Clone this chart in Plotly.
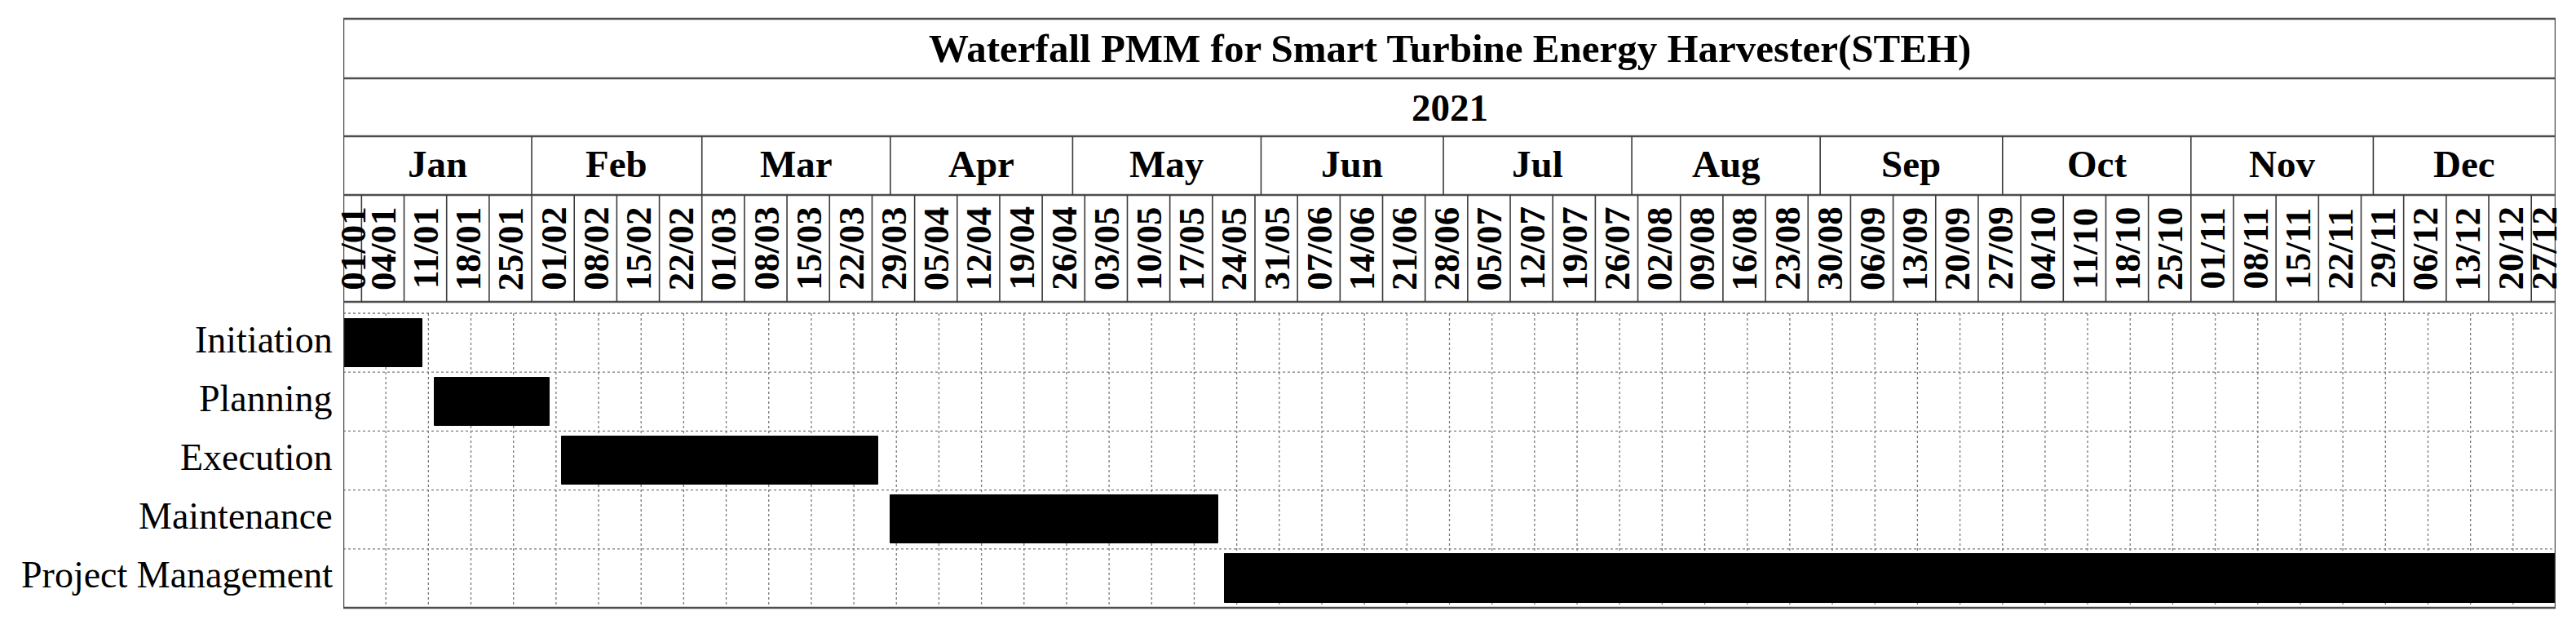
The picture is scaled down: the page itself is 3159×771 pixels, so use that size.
import plotly.graph_objects as go
import pandas as pd

# ---------------- data ----------------
chart_title = "Waterfall PMM for Smart Turbine Energy Harvester(STEH)"
year_label = "2021"
chart_start = "2021-01-01"
chart_end = "2021-12-30"

tasks = ["Initiation", "Planning", "Execution", "Maintenance", "Project Management"]
task_start = ["2021-01-01", "2021-01-16", "2021-02-06", "2021-04-01", "2021-05-26"]
task_end = ["2021-01-13", "2021-02-03", "2021-03-29", "2021-05-24", "2021-12-30"]

month_labels = ["Jan", "Feb", "Mar", "Apr", "May", "Jun",
                "Jul", "Aug", "Sep", "Oct", "Nov", "Dec"]

week_labels = ["01/01", "04/01", "11/01", "18/01", "25/01",
               "01/02", "08/02", "15/02", "22/02",
               "01/03", "08/03", "15/03", "22/03", "29/03",
               "05/04", "12/04", "19/04", "26/04",
               "03/05", "10/05", "17/05", "24/05", "31/05",
               "07/06", "14/06", "21/06", "28/06",
               "05/07", "12/07", "19/07", "26/07",
               "02/08", "09/08", "16/08", "23/08", "30/08",
               "06/09", "13/09", "20/09", "27/09",
               "04/10", "11/10", "18/10", "25/10",
               "01/11", "08/11", "15/11", "22/11", "29/11",
               "06/12", "13/12", "20/12", "27/12"]

# ---------------- helpers ----------------
t0 = pd.Timestamp(chart_start)
total_days = (pd.Timestamp(chart_end) - t0).days + 1


def day(d):
    return (pd.Timestamp(d) - t0).days


starts = [day(s) for s in task_start]
durations = [day(e) + 1 - day(s) for s, e in zip(task_start, task_end)]

# page geometry (pixels); the browser body has an 8 px margin
W, H = 3159, 771
BODY_MARGIN = 8
FIG_W, FIG_H = W - 2 * BODY_MARGIN, H - 2 * BODY_MARGIN
LEFT, RIGHT = 421, 3134
Y_TOP, Y_TITLE, Y_YEAR, Y_MONTH, Y_BODY, Y_BOTTOM = 23, 96, 167, 239, 370, 745


def py(ypix):
    return (Y_BOTTOM - ypix) / (Y_BOTTOM - Y_BODY)


FONT = "Liberation Serif"
BORDER = dict(color="#4d4d4d", width=2.5)
SEP = dict(color="#3a3a3a", width=1.6)
GRID = dict(color="#7a7a7a", width=1.3, dash="dot")

fig = go.Figure()
fig.add_trace(go.Bar(
    y=tasks, x=durations, base=starts, orientation="h",
    width=0.82,
    marker=dict(color="black", line=dict(color="black", width=1)),
    hoverinfo="skip", showlegend=False,
))

shapes = []
# vertical dotted grid every 7 days
for d in range(7, total_days, 7):
    shapes.append(dict(type="line", xref="x", yref="y", x0=d, x1=d,
                       y0=-0.5, y1=len(tasks) - 0.5, line=GRID, layer="below"))
# horizontal dotted grid at row boundaries
for i in range(len(tasks)):
    shapes.append(dict(type="line", xref="x", yref="y", x0=0, x1=total_days,
                       y0=i - 0.5, y1=i - 0.5, line=GRID, layer="below"))

# outer frame
shapes.append(dict(type="rect", xref="x", yref="paper", x0=0, x1=total_days,
                   y0=py(Y_BOTTOM), y1=py(Y_TOP), line=BORDER, layer="above"))
# header horizontal lines
for yy in (Y_TITLE, Y_YEAR, Y_MONTH, Y_BODY):
    shapes.append(dict(type="line", xref="x", yref="paper", x0=0, x1=total_days,
                       y0=py(yy), y1=py(yy), line=BORDER, layer="above"))
# month separators
month_starts = [day(f"2021-{m:02d}-01") for m in range(1, 13)]
for ms in month_starts[1:]:
    shapes.append(dict(type="line", xref="x", yref="paper", x0=ms, x1=ms,
                       y0=py(Y_MONTH), y1=py(Y_YEAR), line=SEP, layer="above"))
# week separators
week_starts = [day(pd.to_datetime(w + "/2021", format="%d/%m/%Y")) for w in week_labels]
for ws in week_starts[1:]:
    shapes.append(dict(type="line", xref="x", yref="paper", x0=ws, x1=ws,
                       y0=py(Y_BODY), y1=py(Y_MONTH), line=SEP, layer="above"))

annotations = []
title_font = dict(family=FONT, size=49, color="black", weight="bold")
bold = dict(family=FONT, size=47, color="black", weight="bold")
annotations.append(dict(text=chart_title, xref="x", yref="paper",
                        x=total_days / 2, y=py((Y_TOP + Y_TITLE) / 2),
                        showarrow=False, font=title_font, xanchor="center", yanchor="middle"))
annotations.append(dict(text=year_label, xref="x", yref="paper",
                        x=total_days / 2, y=py((Y_TITLE + Y_YEAR) / 2),
                        showarrow=False, font=bold, xanchor="center", yanchor="middle"))
month_ends = month_starts[1:] + [total_days]
for lab, a, b in zip(month_labels, month_starts, month_ends):
    annotations.append(dict(text=lab, xref="x", yref="paper",
                            x=(a + b) / 2, y=py((Y_YEAR + Y_MONTH) / 2),
                            yshift=2,
                            showarrow=False, font=bold, xanchor="center", yanchor="middle"))
week_ends = week_starts[1:] + [total_days]
wfont = dict(family=FONT, size=45, color="black", weight="bold")
for lab, a, b in zip(week_labels, week_starts, week_ends):
    annotations.append(dict(text=lab, xref="x", yref="paper",
                            x=(a + b) / 2, y=py((Y_MONTH + Y_BODY) / 2),
                            textangle=-90, showarrow=False, font=wfont,
                            xanchor="center", yanchor="middle"))
# row labels
for lab in tasks:
    annotations.append(dict(text=lab, xref="paper", yref="y", x=0, y=lab,
                            xanchor="right", yanchor="middle", xshift=-11, yshift=4,
                            showarrow=False,
                            font=dict(family=FONT, size=46, color="black")))

fig.update_layout(
    width=FIG_W, height=FIG_H,
    margin=dict(l=LEFT - BODY_MARGIN, r=(BODY_MARGIN + FIG_W) - RIGHT,
                t=Y_BODY - BODY_MARGIN, b=(BODY_MARGIN + FIG_H) - Y_BOTTOM, pad=0,
                autoexpand=False),
    paper_bgcolor="white", plot_bgcolor="white",
    shapes=shapes, annotations=annotations,
    bargap=0, showlegend=False,
    xaxis=dict(range=[0, total_days], showgrid=False, zeroline=False,
               showticklabels=False, ticks="", showline=False, fixedrange=True,
               automargin=False),
    yaxis=dict(type="category", categoryorder="array", categoryarray=tasks,
               range=[len(tasks) - 0.5, -0.5 - 14 / 72.2],
               showgrid=False, zeroline=False, showline=False, ticks="",
               showticklabels=False, automargin=False, fixedrange=True),
)

fig.write_html("out.html", config={"displayModeBar": False})
